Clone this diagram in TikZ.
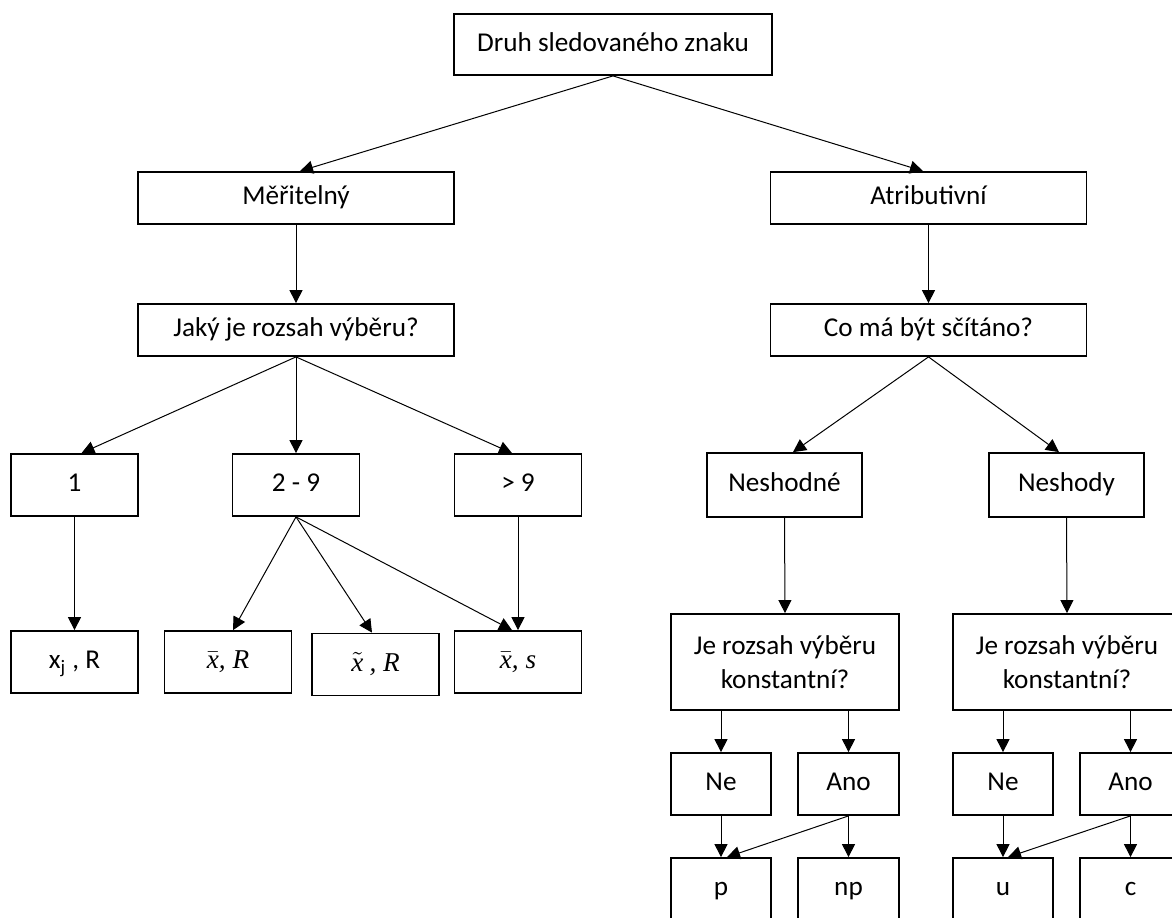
\documentclass[tikz,border=0pt]{standalone}
\usepackage{fontspec}
\setmainfont{Carlito}
\newfontfamily\mathser{Liberation Serif}
\newcommand{\ivar}[1]{\hbox{\mathser\itshape #1}}
\usetikzlibrary{arrows.meta}
\begin{document}
\begin{tikzpicture}[x=0.5pt,y=-0.5pt,
  box/.style={draw, line width=0.9pt, inner sep=0pt, align=center, font=\fontsize{13.6}{17}\selectfont},
  one/.style={box, text height=9.6pt, text depth=2.8pt},
  wbox/.style={one, minimum width=158pt, minimum height=26pt},
  sbox/.style={one, minimum width=63.5pt, minimum height=31pt},
  tbox/.style={one, minimum width=50pt, minimum height=31pt},
  arr/.style={line width=0.5pt, -{Triangle[length=6.5pt,width=6.5pt]}}]
\useasboundingbox (0,0) rectangle (1172,917);
\clip (0,0) rectangle (1172,917);
% level 0
\node[one, minimum width=159pt, minimum height=30.5pt] (top) at (613,44.5) {Druh sledovaného znaku};
% level 1
\node[wbox] (mer) at (296,198) {Měřitelný};
\node[wbox] (atr) at (928.5,198) {Atributivní};
% level 2
\node[wbox] (jaky) at (296,330) {Jaký je rozsah výběru?};
\node[wbox] (co) at (928.5,330) {Co má být sčítáno?};
% level 3 left
\node[sbox] (n1) at (74.5,485) {1};
\node[sbox] (n29) at (296,485) {2 - 9};
\node[sbox] (n9) at (518,485) {> 9};
% level 4 left
\node[sbox] (xj) at (74.5,662) {x\textsubscript{j} , R};
\node[sbox] (xbr) at (228,662) {$\bar{\ivar{x}}$\ivar{, R}};
\node[sbox] (xtr) at (375.5,664.5) {$\tilde{\ivar{x}}$ \ivar{, R}};
\node[sbox] (xbs) at (518,662) {$\bar{\ivar{x}}$\ivar{, s}};
% right side
\node[one, minimum width=77.5pt, minimum height=32pt] (nesL) at (784.5,485) {Neshodné};
\node[one, minimum width=77.5pt, minimum height=32pt] (nesR) at (1066.5,485) {Neshody};
\node[box, minimum width=114pt, minimum height=48pt] (jeL) at (785,662) {Je rozsah výběru\\konstantní?};
\node[box, minimum width=114pt, minimum height=48pt] (jeR) at (1067,662) {Je rozsah výběru\\konstantní?};
\node[tbox] (neL) at (721,784) {Ne};
\node[tbox, minimum width=50.5pt] (anoL) at (848.5,784) {Ano};
\node[tbox] (neR) at (1003,784) {Ne};
\node[tbox, minimum width=50.5pt] (anoR) at (1130.5,784) {Ano};
\node[tbox] (p) at (721,889) {p};
\node[tbox, minimum width=50.5pt] (np) at (848.5,889) {np};
\node[tbox] (u) at (1003,889) {u};
\node[tbox, minimum width=50.5pt] (c) at (1130.5,889) {c};
% connectors
\draw[arr] (top.south) -- ([xshift=2pt]mer.north);
\draw[arr] (top.south) -- ([xshift=-2.75pt]atr.north);
\draw[arr] (mer.south) -- (jaky.north);
\draw[arr] (atr.south) -- (co.north);
\draw[arr] (jaky.south) -- ([xshift=3.5pt]n1.north);
\draw[arr] (jaky.south) -- (n29.north);
\draw[arr] (jaky.south) -- ([xshift=-3pt]n9.north);
\draw[arr] (n1.south) -- (xj.north);
\draw[arr] (n29.south) -- ([xshift=2.5pt]xbr.north);
\draw[arr] (n29.south) -- ([xshift=-1.75pt]xtr.north);
\draw[arr] (n29.south) -- ([xshift=-3pt]xbs.north);
\draw[arr] (n9.south) -- (xbs.north);
\draw[arr] (co.south) -- ([xshift=4.25pt]nesL.north);
\draw[arr] (co.south) -- ([xshift=-3.75pt]nesR.north);
\draw[arr] (nesL.south) -- (jeL.north);
\draw[arr] (nesR.south) -- (jeR.north);
\draw[arr] (neL.north |- jeL.south) -- (neL.north);
\draw[arr] (anoL.north |- jeL.south) -- (anoL.north);
\draw[arr] (neR.north |- jeR.south) -- (neR.north);
\draw[arr] (anoR.north |- jeR.south) -- (anoR.north);
\draw[arr] (neL.south) -- (p.north);
\draw[arr] (anoL.south) -- (np.north);
\draw[arr] (anoL.south) -- ([xshift=3pt]p.north);
\draw[arr] (neR.south) -- (u.north);
\draw[arr] (anoR.south) -- (c.north);
\draw[arr] (anoR.south) -- ([xshift=2.5pt]u.north);
\end{tikzpicture}
\end{document}
